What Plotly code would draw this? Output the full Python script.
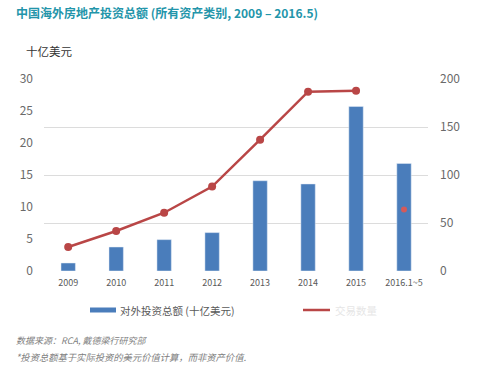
import plotly.graph_objects as go

categories = ["2009", "2010", "2011", "2012", "2013", "2014", "2015", "2016.1~5"]
outbound_bn = [1.25, 3.75, 4.9, 6.0, 14.1, 13.6, 25.7, 16.8]
line_values = [25, 41.7, 60.7, 88, 136.8, 186.8, 187.8]
line_categories = categories[:7]
partial_point_cat = ["2016.1~5"]
partial_point_val = [64]

W, H = 500, 368
L, R, T, B = 44, 72, 79, 97
pw, ph = W - L - R, H - T - B

def px(x):
    return (x - L) / pw

def py(y):
    return (H - B - y) / ph

BLUE = "#4a7dbb"
RED = "#b94646"
FONT = "Noto Sans CJK SC, Liberation Sans, sans-serif"

fig = go.Figure()
fig.add_trace(go.Bar(x=categories, y=outbound_bn, marker_color=BLUE, width=0.3,
                     name="对外投资总额 (十亿美元)", showlegend=False))
fig.add_trace(go.Scatter(x=line_categories, y=line_values, yaxis="y2", mode="lines+markers",
                         line=dict(color=RED, width=2.5), marker=dict(size=8, color=RED),
                         showlegend=False))
fig.add_trace(go.Scatter(x=partial_point_cat, y=partial_point_val, yaxis="y2", mode="markers",
                         marker=dict(size=6, color="#d45a5a"), showlegend=False))

fig.update_layout(
    width=W, height=H,
    margin=dict(l=L, r=R, t=T, b=B),
    paper_bgcolor="white", plot_bgcolor="white",
    font=dict(family=FONT, color="#595959"),
    xaxis=dict(type="category", tickfont=dict(size=9, color="#595959"), showgrid=False,
               ticks="", showline=False, zeroline=False, ticklabelstandoff=5),
    yaxis=dict(range=[0, 30], dtick=5, showgrid=False, zeroline=False,
               tickfont=dict(size=12, color="#6a6a6a"), ticks="", ticklabelstandoff=10),
    yaxis2=dict(range=[0, 200], dtick=50, overlaying="y", side="right", showgrid=True,
                gridcolor="#dcdcdc", gridwidth=1, zeroline=False,
                tickfont=dict(size=12, color="#6a6a6a"), ticks="", ticklabelstandoff=11),
)

shapes = [
    dict(type="rect", xref="paper", yref="paper", x0=px(90), x1=px(116), y0=py(312.5), y1=py(307.5),
         fillcolor=BLUE, line=dict(width=0)),
    dict(type="line", xref="paper", yref="paper", x0=px(303), x1=px(330), y0=py(310), y1=py(310),
         line=dict(color=RED, width=2.5)),
]
annotations = [
    dict(text="<b>中国海外房地产投资总额 (所有资产类别, 2009 – 2016.5)</b>", xref="paper", yref="paper",
         x=px(14), y=py(12), xanchor="left", yanchor="middle", showarrow=False,
         font=dict(size=12, color="#2395aa", family=FONT)),
    dict(text="十亿美元", xref="paper", yref="paper", x=px(24), y=py(51), xanchor="left",
         yanchor="middle", showarrow=False, font=dict(size=11.5, color="#333333")),
    dict(text="对外投资总额 (十亿美元)", xref="paper", yref="paper", x=px(118), y=py(310),
         xanchor="left", yanchor="middle", showarrow=False, font=dict(size=10.5, color="#595959")),
    dict(text="交易数量", xref="paper", yref="paper", x=px(333), y=py(310),
         xanchor="left", yanchor="middle", showarrow=False, font=dict(size=10.5, color="#e6e6e6")),
    dict(text="<i>数据来源：RCA, 戴德梁行研究部</i>", xref="paper", yref="paper", x=px(14), y=py(340),
         xanchor="left", yanchor="middle", showarrow=False, font=dict(size=9, color="#808080")),
    dict(text="<i>*投资总额基于实际投资的美元价值计算，而非资产价值.</i>", xref="paper", yref="paper",
         x=px(14), y=py(357), xanchor="left", yanchor="middle", showarrow=False,
         font=dict(size=9.3, color="#808080")),
]
fig.update_layout(shapes=shapes, annotations=annotations)

fig.write_html("out.html", config={"displayModeBar": False},
               post_script="document.body.style.margin='0';")
